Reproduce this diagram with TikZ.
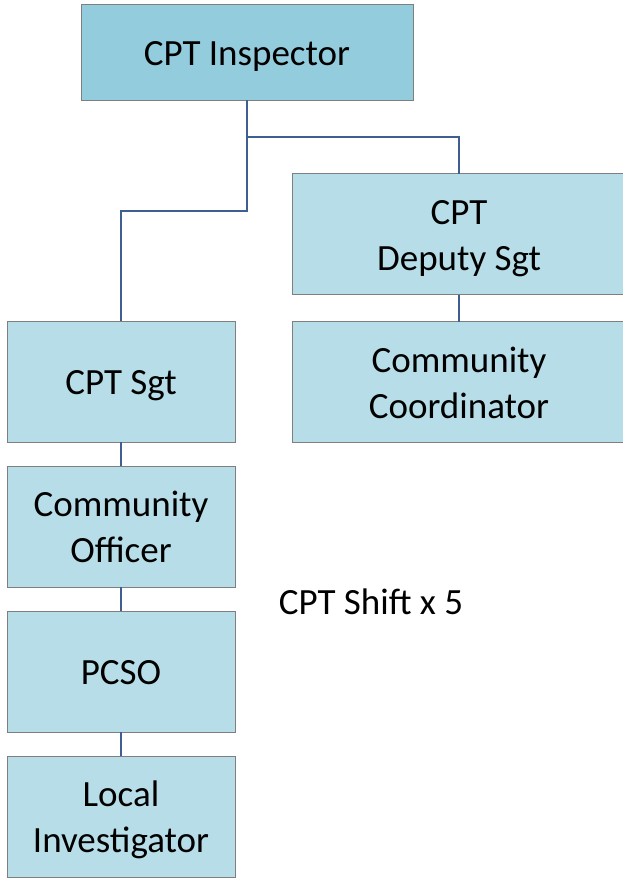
\documentclass[tikz,border=0pt]{standalone}
\usepackage{fontspec}
\setmainfont{Carlito}
\usetikzlibrary{positioning}
\definecolor{headblue}{HTML}{93CDDD}
\definecolor{postblue}{HTML}{B7DEE8}
\definecolor{linkblue}{HTML}{3F5F91}
\definecolor{rimgray}{HTML}{7F7F7F}
% struts so every box sets its text at the same height
\newcommand\role[1]{\rule{0pt}{34pt}#1\rule[-8pt]{0pt}{8pt}}

\begin{document}
\begin{tikzpicture}[x=1pt, y=-1pt, node distance=24pt,
  post/.style = {draw=rimgray, fill=postblue, minimum width=228pt, minimum height=121pt, align=center, inner sep=0pt, outer sep=0pt, font=\fontsize{37}{46}\selectfont},
  head/.style = {post, fill=headblue, minimum width=332pt, minimum height=96pt},
  wide/.style = {post, minimum width=334pt},
  link/.style = {draw=linkblue, line width=2pt}]
\useasboundingbox (0,0) rectangle (623,878);
\node[head] (insp) at (247,52) {\role{CPT Inspector}};
\node[wide] (dep) at (459,234) {\role{CPT\\Deputy Sgt}};
\node[wide] (coord) [below=27pt of dep] {\role{Community\\Coordinator}};
\node[post] (sgt) at (121,381.5) {\role{CPT Sgt}};
\node[post] (off) [below=of sgt] {\role{Community\\Officer}};
\node[post] (pcso) [below=of off] {\role{PCSO}};
\node[post] (inv) [below=of pcso] {\role{Local\\Investigator}};
\node[font=\fontsize{37}{46}\selectfont] (shift) at (371,602) {CPT Shift x 5};
\coordinate (fork) at (247,137);
\coordinate (elbow) at (247,211);
\draw[link] (insp.south) -- (fork) -| (dep.north);
\draw[link] (fork) -- (elbow) -| (sgt.north);
\draw[link] (dep.south) -- (coord.north);
\draw[link] (sgt.south) -- (off.north);
\draw[link] (off.south) -- (pcso.north);
\draw[link] (pcso.south) -- (inv.north);
\end{tikzpicture}
\end{document}
